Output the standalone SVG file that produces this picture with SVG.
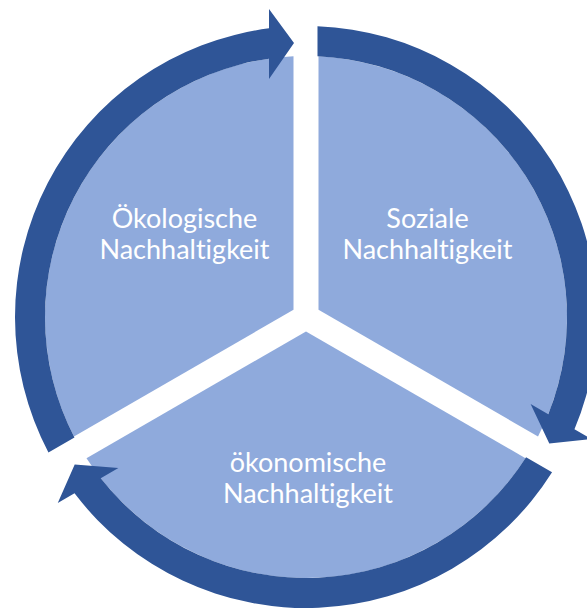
<svg xmlns="http://www.w3.org/2000/svg" xmlns:xlink="http://www.w3.org/1999/xlink" width="587" height="608" viewBox="0 0 587 608">
  <style>
    .seg { fill: #8FAADC; }
    .arr { fill: #2F5597; }
    .lbl { font-family: Lato, "Noto Sans", "Liberation Sans", sans-serif; font-size: 27px; fill: #FFFFFF; text-anchor: middle; font-variant-ligatures: none; font-feature-settings: "liga" 0, "clig" 0; }
  </style>
  <defs>
    <!-- one pie third (upper-left), rotated about the centre (306,317) for the others -->
    <path id="segment" d="M 293.5 309.78 L 293.5 56.30 A 261 261 0 0 0 73.98 436.52 Z"/>
    <!-- curved arrow over the upper-left third, head pointing into the top gap -->
    <path id="arrow" d="M 48.44 452.43 A 291 291 0 0 1 269 28.36 L 269 9 L 294 43 L 269 79 L 269 58.64 A 261 261 0 0 0 74.44 437.42 Z"/>
  </defs>

  <g id="node-oekologisch">
    <use xlink:href="#segment" href="#segment" class="seg"/>
    <text class="lbl" x="184.5" y="228">Ökologische</text>
    <text class="lbl" x="184.5" y="259">Nachhaltigkeit</text>
  </g>

  <g id="node-sozial">
    <use xlink:href="#segment" href="#segment" class="seg" transform="rotate(120 306 317)"/>
    <text class="lbl" x="427.5" y="228">Soziale</text>
    <text class="lbl" x="427.5" y="259">Nachhaltigkeit</text>
  </g>

  <g id="node-oekonomisch">
    <use xlink:href="#segment" href="#segment" class="seg" transform="rotate(240 306 317)"/>
    <text class="lbl" x="308" y="472">ökonomische</text>
    <text class="lbl" x="308" y="503">Nachhaltigkeit</text>
  </g>

  <g id="connectors">
    <use xlink:href="#arrow" href="#arrow" class="arr"/>
    <use xlink:href="#arrow" href="#arrow" class="arr" transform="rotate(120 306 317)"/>
    <use xlink:href="#arrow" href="#arrow" class="arr" transform="rotate(240 306 317)"/>
  </g>
</svg>
